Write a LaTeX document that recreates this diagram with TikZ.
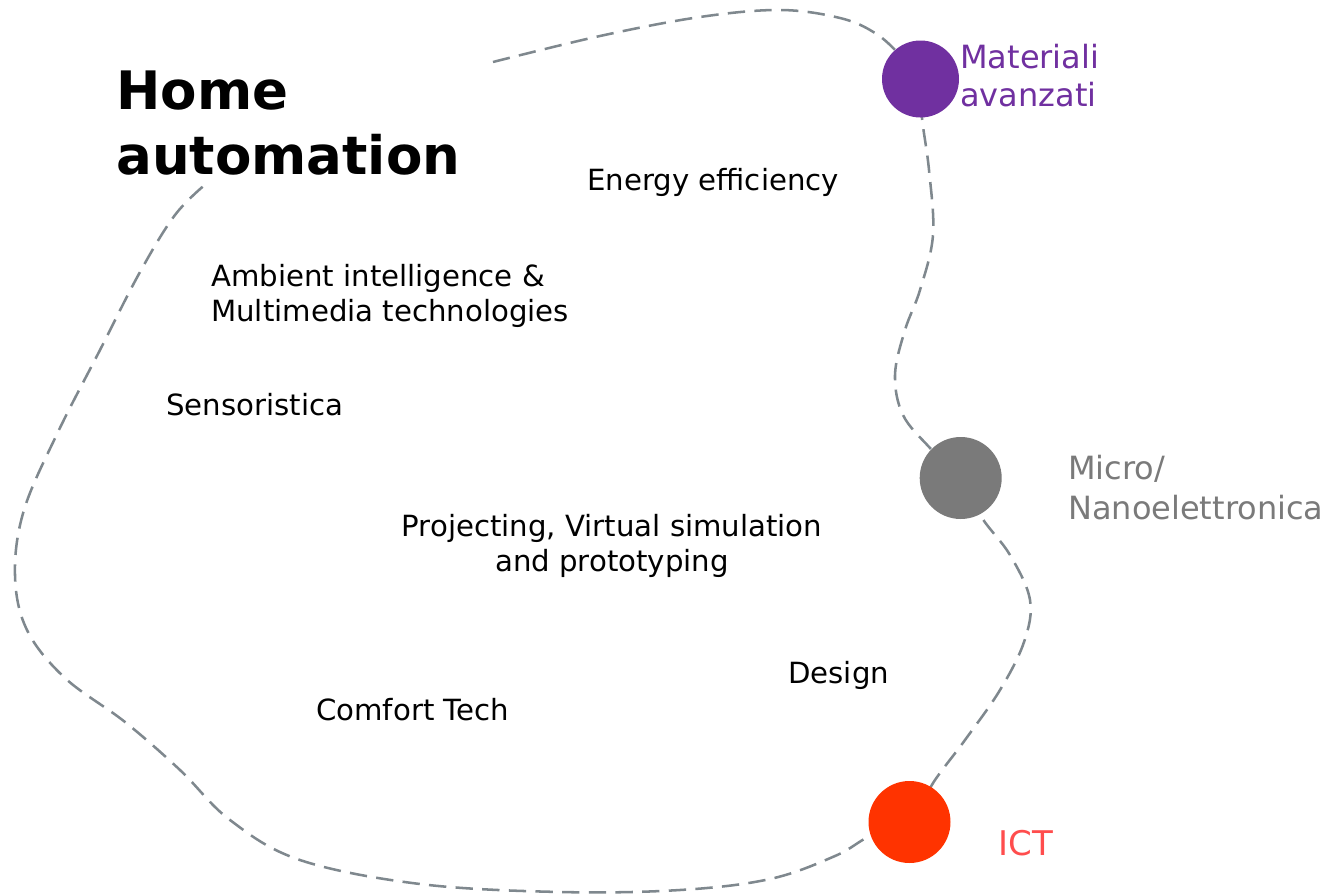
\documentclass[tikz,border=0pt]{standalone}
\usepackage{fontspec}
\setmainfont{DejaVu Sans}
\definecolor{curvegray}{HTML}{7F888E}
\definecolor{matpurple}{HTML}{7030A0}
\definecolor{microgray}{HTML}{7A7A7A}
\definecolor{ictred}{HTML}{FF3300}
\definecolor{icttext}{HTML}{FF4D4D}
\tikzset{
  body/.style={anchor=base west, inner sep=0pt, font=\fontsize{21.9}{26.25}\selectfont},
  dot/.style={circle, inner sep=0pt, minimum size=#1},
  lbl/.style={anchor=base west, inner sep=0pt, align=left},
}
\begin{document}
\begin{tikzpicture}[x=0.75pt, y=-0.75pt]
\useasboundingbox (0,0) rectangle (1332,896);
% dashed boundary curve
\draw[curvegray, line width=1.9pt, dash pattern=on 13pt off 7pt, line cap=butt]
  plot[smooth, tension=0.6] coordinates {
   (493,62) (600,36) (700,17) (780,10) (840,18) (875,33) (900,55) (920,79)
   (922,118) (929,170) (933,235) (920,290) (905,330) (895,375) (903,415) (930,448) (960,478)
   (982,518) (1010,555) (1030,600) (1024,642) (1000,690) (965,740) (935,780) (909,822)
   (870,836) (835,856) (770,879) (680,890) (560,892) (420,884) (300,860) (230,820) (180,770)
   (125,722) (65,678) (27,630) (15,575) (24,510) (58,432) (100,350) (140,272) (175,215) (207,183)
  };
% circles
\node[dot=77*0.75pt, fill=matpurple] (mat) at (920.5,79) {};
\node[dot=82*0.75pt, fill=microgray] (mic) at (960.7,478) {};
\node[dot=82*0.75pt, fill=ictred] (ict) at (909.5,822) {};
% title (base anchor = last line)
\node[lbl, font=\bfseries\fontsize{39.75}{48.5}\selectfont] (title) at (116,174) {Home\\automation};
% side labels
\node[lbl, text=matpurple, font=\fontsize{24}{28.5}\selectfont] (matl) at (960,106) {Materiali\\avanzati};
\node[lbl, text=microgray, font=\fontsize{24}{30}\selectfont] (micl) at (1068,519) {Micro/\\Nanoelettronica};
\node[lbl, text=icttext, font=\fontsize{25.5}{30}\selectfont] (ictl) at (998,855) {ICT};
% body labels
\node[body] (ee) at (587,190) {Energy efficiency};
\node[body, align=left] (ai) at (211,321) {Ambient intelligence \&\\Multimedia technologies};
\node[body] (se) at (166,415) {Sensoristica};
\node[anchor=base, inner sep=0pt, align=center, font=\fontsize{21.9}{26.25}\selectfont] (pr) at (612,571) {Projecting, Virtual simulation\\and prototyping};
\node[body] (de) at (788,683) {Design};
\node[body] (ct) at (316,720) {Comfort Tech};
\end{tikzpicture}
\end{document}
